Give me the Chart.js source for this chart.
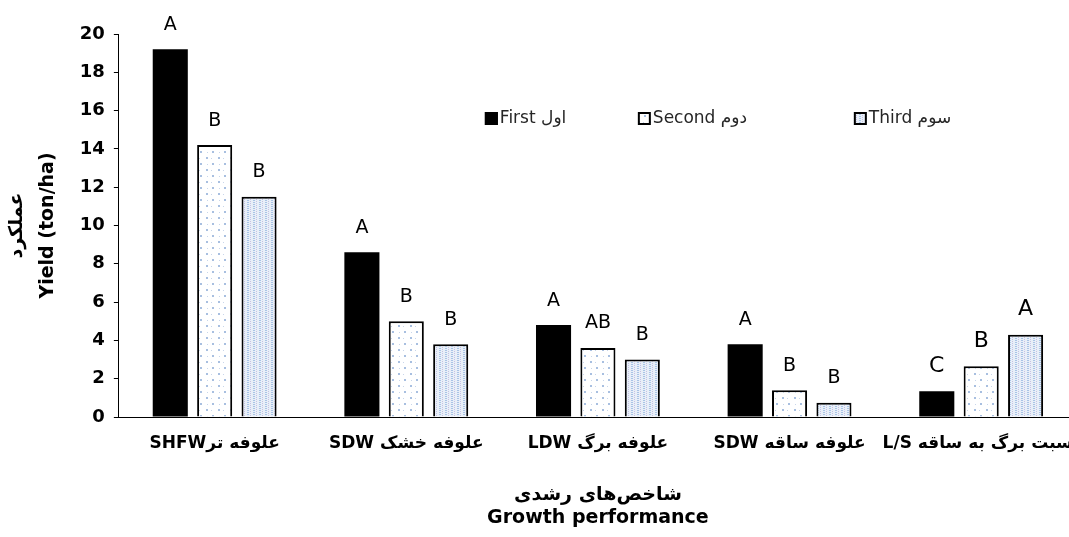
<!DOCTYPE html>
<html lang="fa">
<head>
<meta charset="UTF-8">
<title>Yield by growth performance</title>
<script src="https://cdn.jsdelivr.net/npm/chart.js"></script>
<style>
  html, body { margin: 0; padding: 0; background: #fff; overflow: hidden; }
  #wrap { width: 1100px; height: 537px; }
</style>
</head>
<body>
<div id="wrap"><canvas id="yieldChart" dir="ltr"></canvas></div>
<script>
// Persian labels are laid out right-to-left, as in the original figure
const rtl = s => '\u202B' + s + '\u202C';

const categories = [
  'علوفه ترSHFW',
  'علوفه خشک SDW',
  'علوفه برگ LDW',
  'علوفه ساقه SDW',
  'نسبت برگ به ساقه L/S'
];
const seriesNames = ['First اول', 'Second دوم', 'Third سوم'];
const firstCut  = [19.2, 8.6, 4.8, 3.8, 1.35];
const secondCut = [14.2, 5.0, 3.6, 1.4, 2.65];
const thirdCut  = [11.5, 3.8, 3.0, 0.75, 4.3];
const firstLetters  = ['A', 'A', 'A', 'A', 'C'];
const secondLetters = ['B', 'B', 'AB', 'B', 'B'];
const thirdLetters  = ['B', 'B', 'B', 'B', 'A'];
const yTicks = [0, 2, 4, 6, 8, 10, 12, 14, 16, 18, 20];

const font = "'DejaVu Sans', 'Liberation Sans', sans-serif";

// fill patterns like the Excel textures
function sparseDots() {
  const c = document.createElement('canvas');
  c.width = 12; c.height = 12;
  const g = c.getContext('2d');
  g.fillStyle = '#ffffff'; g.fillRect(0, 0, 12, 12);
  g.fillStyle = '#a8bfe0';
  g.fillRect(2, 1, 2, 2);
  g.fillRect(8, 7, 2, 2);
  g.fillStyle = '#c9d6ea';
  g.fillRect(7, 2, 1, 1);
  g.fillRect(3, 8, 1, 1);
  return g.createPattern(c, 'repeat');
}
function denseDots() {
  const c = document.createElement('canvas');
  c.width = 6; c.height = 4;
  const g = c.getContext('2d');
  g.fillStyle = '#e8eff8'; g.fillRect(0, 0, 6, 4);
  g.fillStyle = '#a9c3e6';
  g.fillRect(1, 0, 2, 1);
  g.fillRect(1, 2, 2, 1);
  g.fillStyle = '#c6c2e4';
  g.fillRect(4, 1, 1, 1);
  g.fillRect(4, 3, 1, 1);
  return g.createPattern(c, 'repeat');
}
const secondFill = sparseDots();
const thirdFill = denseDots();

const letterSets = [firstLetters, secondLetters, thirdLetters];

const letterPlugin = {
  id: 'letters',
  afterDatasetsDraw(chart) {
    const ctx = chart.ctx;
    ctx.save();
    ctx.fillStyle = '#000';
    ctx.textAlign = 'center';
    ctx.textBaseline = 'bottom';
    chart.data.datasets.forEach((ds, di) => {
      const meta = chart.getDatasetMeta(di);
      meta.data.forEach((bar, i) => {
        const big = i === categories.length - 1;
        ctx.font = (big ? '22px ' : '19px ') + font;
        ctx.fillText(letterSets[di][i], bar.x, bar.y - (big ? 14 : 15));
      });
    });
    ctx.restore();
  }
};

const legendPlugin = {
  id: 'insideLegend',
  afterDraw(chart, args, opts) {
    const ctx = chart.ctx;
    const area = chart.chartArea;
    ctx.save();
    ctx.direction = 'ltr';
    ctx.font = '17px ' + font;
    ctx.textBaseline = 'middle';
    ctx.textAlign = 'left';
    chart.data.datasets.forEach((ds, di) => {
      const x = area.left + opts.offsets[di];
      const y = opts.y;
      ctx.fillStyle = ds.backgroundColor;
      ctx.fillRect(x, y - 6, 13, 13);
      ctx.lineWidth = 2;
      ctx.strokeStyle = '#000';
      ctx.strokeRect(x + 1, y - 5, 11, 11);
      ctx.fillStyle = '#262626';
      ctx.fillText(ds.label, x + 15, y + 1);
    });
    ctx.restore();
  }
};

new Chart(document.getElementById('yieldChart'), {
  type: 'bar',
  data: {
    labels: categories.map(rtl),
    datasets: [
      { label: seriesNames[0], data: firstCut, backgroundColor: '#000000', borderWidth: 0 },
      { label: seriesNames[1], data: secondCut, backgroundColor: secondFill, borderColor: '#000', borderWidth: 2 },
      { label: seriesNames[2], data: thirdCut, backgroundColor: thirdFill, borderColor: '#000', borderWidth: 2 }
    ]
  },
  options: {
    responsive: true,
    maintainAspectRatio: false,
    animation: false,
    layout: { padding: { top: 34, right: 23, bottom: 8, left: 2 } },
    datasets: { bar: { categoryPercentage: 0.695, barPercentage: 0.79 } },
    plugins: {
      legend: { display: false },
      tooltip: { enabled: false },
      insideLegend: { y: 118, offsets: [366, 519, 735] }
    },
    scales: {
      x: {
        grid: { display: false },
        border: { display: true, color: '#000', width: 1 },
        ticks: {
          color: '#000',
          font: { family: font, size: 17, weight: 'bold' },
          padding: 8,
          autoSkip: false,
          maxRotation: 0
        },
        title: {
          display: true,
          text: [rtl('شاخص\u200Cهای رشدی'), 'Growth performance'],
          color: '#000',
          font: { family: font, size: 19, weight: 'bold', lineHeight: 1.2 },
          padding: { top: 22, bottom: 0 }
        }
      },
      y: {
        min: 0,
        max: 20,
        afterBuildTicks(axis) { axis.ticks = yTicks.map(v => ({ value: v })); },
        grid: { drawOnChartArea: false, drawTicks: true, tickLength: 5, color: '#000' },
        border: { display: true, color: '#000', width: 1 },
        ticks: {
          color: '#000',
          font: { family: font, size: 18, weight: 'bold' },
          padding: 9
        },
        title: {
          display: true,
          text: ['عملکرد', 'Yield (ton/ha)'],
          color: '#000',
          font: { family: font, size: 19, weight: 'bold', lineHeight: 1.6 },
          padding: { top: 0, bottom: 8 }
        }
      }
    }
  },
  plugins: [letterPlugin, legendPlugin]
});
</script>
</body>
</html>
